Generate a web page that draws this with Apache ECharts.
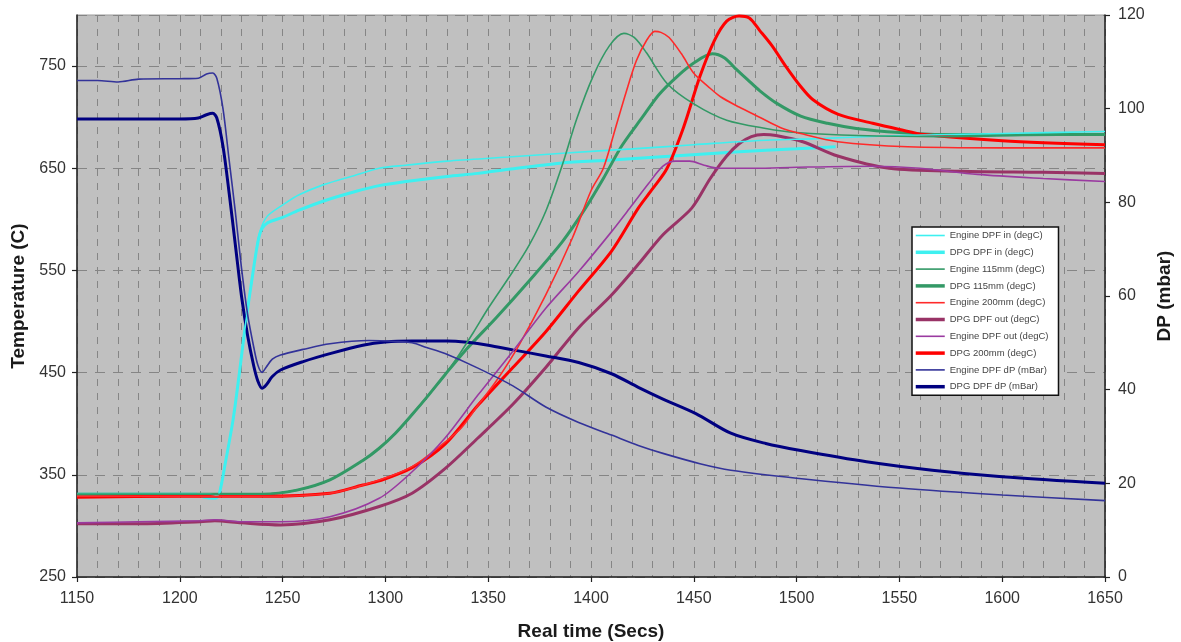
<!DOCTYPE html>
<html>
<head>
<meta charset="utf-8">
<script src="https://cdn.jsdelivr.net/npm/echarts@6/dist/echarts.min.js"></script>
<style>
html,body{margin:0;padding:0;background:#fff;}
#chart{width:1181px;height:642px;}
</style>
</head>
<body>
<div id="chart"></div>
<script>
// ---- data: [time (s), value] ----
const seriesNames = [
  'Engine DPF in (degC)', 'DPG DPF in (degC)', 'Engine 115mm (degC)', 'DPG 115mm (degC)',
  'Engine 200mm (degC)', 'DPG DPF out (degC)', 'Engine DPF out (degC)', 'DPG 200mm (degC)',
  'Engine DPF dP (mBar)', 'DPG DPF dP (mBar)'
];

const engineIn = [[1150,331],[1190,331],[1215,331],[1218,330],[1219,331],[1222,360],[1226,405],[1229,450],[1232,498],[1235,540],[1238,580],[1240,594],[1243,604],[1250,614],[1258,624],[1270,634],[1285,643],[1297,650],[1310,653],[1330,657],[1360,661],[1388,665],[1420,669],[1450,673],[1480,677],[1510,679],[1550,682],[1600,684],[1650,686]];
const dpgIn = [[1150,331],[1190,331],[1208,331],[1212,328],[1217,327],[1219,330],[1222,360],[1226,405],[1229,450],[1232,498],[1235,540],[1238,578],[1240,591],[1243,597],[1250,602],[1258,609],[1270,618],[1285,627],[1297,633],[1310,637],[1330,642],[1345,645],[1360,649],[1385,655],[1410,658],[1440,662],[1470,666],[1500,669],[1519,671]];
const engine115 = [[1150,331],[1200,331],[1240,331],[1257,335],[1273,345],[1289,364],[1297,376],[1305,391],[1313,409],[1321,428],[1329,448],[1336,468],[1343,490],[1350,513],[1362,549],[1370,575],[1378,608],[1386,653],[1393,698],[1401,740],[1409,770],[1416,782],[1421,778],[1427,763],[1437,733],[1450,713],[1466,697],[1485,689],[1500,685],[1530,682],[1570,681],[1610,682],[1650,683]];
const dpg115 = [[1150,331],[1200,331],[1240,331],[1257,335],[1273,345],[1289,364],[1297,376],[1305,391],[1313,409],[1321,428],[1329,448],[1339,472],[1354,504],[1370,540],[1386,578],[1397,610],[1406,640],[1415,672],[1425,700],[1433,722],[1442,740],[1450,753],[1459,762],[1465,758],[1470,748],[1476,737],[1482,726],[1490,714],[1502,701],[1515,694],[1529,689],[1550,685],[1571,683],[1610,683],[1650,683]];
const engine200 = [[1150,329],[1200,329],[1240,329],[1273,332],[1297,345],[1313,358],[1329,382],[1337,396],[1345,418],[1354,442],[1365,477],[1378,526],[1391,582],[1400,628],[1406,650],[1412,690],[1417,724],[1422,755],[1427,775],[1431,784],[1434,783],[1438,778],[1444,762],[1450,743],[1457,730],[1463,720],[1472,710],[1482,700],[1492,690],[1502,684],[1520,676],[1554,671],[1600,670],[1650,670]];
const dpgOut = [[1150,302],[1180,302],[1210,304],[1217,305],[1230,303],[1249,301],[1273,306],[1297,319],[1313,332],[1329,356],[1345,386],[1362,419],[1378,455],[1394,494],[1410,526],[1423,556],[1435,585],[1449,611],[1458,640],[1466,662],[1472,674],[1478,681],[1484,683],[1490,682],[1503,676],[1520,662],[1545,650],[1580,647],[1620,646],[1650,645]];
const engineOut = [[1150,303],[1180,304],[1210,305],[1217,306],[1230,304],[1249,304],[1273,309],[1297,327],[1313,353],[1329,386],[1345,428],[1362,471],[1378,513],[1394,549],[1410,588],[1420,614],[1428,635],[1435,652],[1441,657],[1448,657],[1455,653],[1462,650],[1480,650],[1500,651],[1537,652],[1560,650],[1588,644],[1620,640],[1650,637]];
const dpg200 = [[1150,328],[1200,329],[1240,329],[1273,332],[1289,340],[1297,344],[1313,357],[1329,380],[1345,418],[1362,455],[1378,490],[1394,530],[1410,569],[1423,611],[1430,630],[1437,650],[1445,690],[1453,740],[1460,775],[1466,794],[1472,799],[1477,797],[1482,785],[1488,770],[1495,749],[1502,730],[1508,717],[1520,703],[1537,694],[1550,688],[1562,683],[1600,677],[1650,673]];
const engineDP = [[1150,106],[1160,106],[1170,105.7],[1180,106.3],[1200,106.4],[1209,106.5],[1213,107.4],[1216,107.6],[1218,106.5],[1221,100],[1224,89],[1227,78],[1230,66],[1233,56],[1236,49],[1238,45.2],[1240,43.7],[1242,44.8],[1245,46.5],[1249,47.4],[1260,48.6],[1273,49.8],[1292,50.5],[1305,50.3],[1313,50],[1320,49],[1329,47.7],[1345,44.6],[1362,40.8],[1378,36.3],[1394,33],[1410,30.3],[1423,28.1],[1435,26.4],[1453,24.2],[1468,22.8],[1500,21.1],[1550,19],[1600,17.5],[1650,16.3]];
const dpgDP = [[1150,97.8],[1200,97.8],[1209,98],[1213,98.7],[1216,99],[1218,98],[1221,92],[1224,82],[1227,71],[1230,60],[1233,51.5],[1236,45],[1238,41.8],[1240,40.3],[1242,41],[1245,42.8],[1249,44.2],[1260,46],[1273,47.7],[1289,49.5],[1300,50.2],[1313,50.4],[1330,50.4],[1340,50.1],[1350,49.5],[1362,48.5],[1378,47.2],[1394,45.8],[1410,43.4],[1423,40.5],[1435,38],[1451,34.9],[1468,30.7],[1485,28.5],[1502,27],[1534,24.6],[1566,22.8],[1600,21.4],[1650,20]];

// axis tick settings
const xTicks = {min:1150, max:1650, step:50};
const tempTicks = {min:250, max:800, step:100};
const dpTicks = {min:0, max:120, step:20};

const FONT = '"Liberation Sans", Arial, sans-serif';
const dash = {color:'#858585', width:1, type:[7,7]};

const styles = [
  ['#3ef0f0', 1.6, 0], ['#3ef0f0', 3, 0], ['#339966', 1.6, 0], ['#339966', 3, 0],
  ['#ff2a2a', 1.6, 0], ['#993366', 3, 0], ['#9a3aa0', 1.6, 0], ['#ff0000', 3, 0],
  ['#333399', 1.6, 1], ['#000080', 3, 1]
];
const datasets = [engineIn, dpgIn, engine115, dpg115, engine200, dpgOut, engineOut, dpg200, engineDP, dpgDP];

const series = datasets.map((data, i) => {
  const [color, width, yIdx] = styles[i];
  return {
    name: seriesNames[i], type:'line', data, yAxisIndex:yIdx, showSymbol:false, symbol:'none',
    smooth:0.3, lineStyle:{color, width}, itemStyle:{color}, emphasis:{disabled:true},
    z: width > 2 ? 3 : 4
  };
});

const legendData = seriesNames.map((name, i) => ({
  name, lineStyle:{width: styles[i][1] > 2 ? 3.5 : 1.6, color: styles[i][0]}
}));

const chart = echarts.init(document.getElementById('chart'), null, {renderer:'canvas'});
chart.setOption({
  animation:false,
  textStyle:{fontFamily:FONT},
  grid:{left:77, right:76, top:15, bottom:65, outerBoundsMode:'none', containLabel:false,
        show:true, backgroundColor:'#c0c0c0', borderColor:'#9a9a9a', borderWidth:1},
  legend:{
    orient:'vertical', left:912, top:227, data:legendData,
    itemWidth:29, itemHeight:10, itemGap:6.8,
    itemStyle:{opacity:0},
    backgroundColor:'#ffffff', borderColor:'#111', borderWidth:1.5, borderRadius:0,
    padding:[3.5,10,3.5,2],
    textStyle:{fontSize:9.5, color:'#444', fontFamily:FONT},
    selectedMode:false
  },
  xAxis:{
    type:'value', min:xTicks.min, max:xTicks.max, interval:xTicks.step,
    name:'Real time (Secs)', nameLocation:'middle', nameGap:45,
    nameTextStyle:{fontSize:19, fontWeight:'bold', color:'#1a1a1a', fontFamily:FONT},
    axisLine:{lineStyle:{color:'#222', width:1.5}},
    axisTick:{show:true, length:5, lineStyle:{color:'#222', width:1.2}},
    axisLabel:{fontSize:16, color:'#333', margin:14, fontFamily:FONT, formatter:v => String(v)},
    splitLine:{show:true, lineStyle:dash},
    minorTick:{show:false, splitNumber:5},
    minorSplitLine:{show:true, lineStyle:dash}
  },
  yAxis:[
    {
      type:'value', position:'left', min:tempTicks.min, max:tempTicks.max, interval:tempTicks.step,
      name:'Temperature (C)', nameLocation:'middle', nameGap:46,
      nameTextStyle:{fontSize:19, fontWeight:'bold', color:'#1a1a1a', fontFamily:FONT},
      axisLine:{show:true, lineStyle:{color:'#222', width:1.5}},
      axisTick:{show:true, length:5, lineStyle:{color:'#222', width:1.2}},
      axisLabel:{fontSize:16, color:'#333', margin:11, showMaxLabel:false, fontFamily:FONT, formatter:v => String(v)},
      splitLine:{show:true, lineStyle:{color:'#858585', width:1, type:[10,8]}}
    },
    {
      type:'value', position:'right', min:dpTicks.min, max:dpTicks.max, interval:dpTicks.step,
      name:'DP (mbar)', nameLocation:'middle', nameGap:50,
      nameTextStyle:{fontSize:19, fontWeight:'bold', color:'#1a1a1a', fontFamily:FONT},
      axisLine:{show:true, lineStyle:{color:'#222', width:1.5}},
      axisTick:{show:true, length:5, lineStyle:{color:'#222', width:1.2}},
      axisLabel:{fontSize:16, color:'#333', margin:13, fontFamily:FONT, formatter:v => String(v)},
      splitLine:{show:false}
    }
  ],
  series
});
</script>
</body>
</html>
